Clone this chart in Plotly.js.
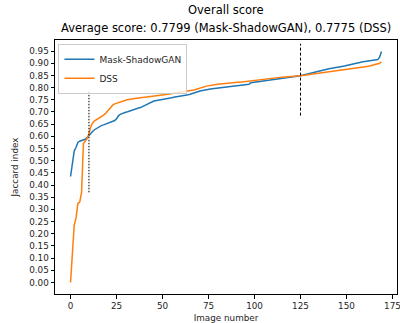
<!DOCTYPE html>
<html>
<head>
<meta charset="utf-8">
<script src="https://cdn.plot.ly/plotly-3.0.1.min.js"></script>
<style>html,body{margin:0;padding:0;background:#fff;}#chart{width:400px;height:323px;}</style>
</head>
<body>
<div id="chart"></div>
<script>
const seriesNames = ["Mask-ShadowGAN", "DSS"];
const maskShadowGAN = [
0.435,0.49,0.54,0.555,0.575,0.58,0.582,0.585,0.588,0.595,
0.605,0.612,0.62,0.627,0.632,0.636,0.641,0.645,0.647,0.65,
0.652,0.656,0.659,0.662,0.665,0.672,0.684,0.69,0.694,0.697,
0.699,0.701,0.704,0.706,0.708,0.71,0.713,0.716,0.718,0.722,
0.726,0.729,0.732,0.735,0.74,0.744,0.746,0.747,0.749,0.75,
0.751,0.752,0.754,0.756,0.757,0.758,0.76,0.761,0.763,0.764,
0.765,0.766,0.768,0.77,0.771,0.773,0.776,0.779,0.781,0.783,
0.785,0.787,0.789,0.79,0.792,0.793,0.794,0.795,0.796,0.797,
0.798,0.799,0.8,0.801,0.802,0.803,0.804,0.805,0.806,0.806,
0.807,0.808,0.809,0.81,0.81,0.811,0.812,0.814,0.82,0.821,
0.822,0.823,0.824,0.825,0.826,0.828,0.829,0.83,0.831,0.832,
0.833,0.834,0.835,0.836,0.837,0.838,0.839,0.84,0.841,0.842,
0.843,0.844,0.845,0.846,0.847,0.849,0.851,0.853,0.855,0.857,
0.859,0.861,0.863,0.865,0.867,0.869,0.871,0.872,0.874,0.875,
0.877,0.878,0.879,0.88,0.881,0.882,0.883,0.885,0.887,0.889,
0.891,0.893,0.895,0.897,0.899,0.9,0.901,0.903,0.905,0.906,
0.907,0.908,0.909,0.91,0.911,0.912,0.913,0.915,0.925,0.948
];
const dss = [
0.0,0.13,0.235,0.265,0.325,0.33,0.37,0.57,0.578,0.59,
0.61,0.64,0.655,0.664,0.668,0.672,0.676,0.68,0.687,0.694,
0.702,0.712,0.722,0.729,0.733,0.736,0.739,0.741,0.743,0.746,
0.748,0.75,0.752,0.753,0.754,0.755,0.756,0.757,0.758,0.759,
0.76,0.761,0.762,0.763,0.764,0.765,0.765,0.766,0.766,0.767,
0.767,0.768,0.77,0.772,0.774,0.776,0.777,0.779,0.78,0.781,
0.782,0.783,0.784,0.786,0.787,0.788,0.789,0.79,0.792,0.795,
0.798,0.8,0.802,0.804,0.806,0.808,0.81,0.811,0.812,0.813,
0.814,0.815,0.816,0.817,0.817,0.818,0.818,0.819,0.82,0.82,
0.821,0.822,0.822,0.823,0.824,0.825,0.826,0.827,0.828,0.829,
0.83,0.831,0.832,0.833,0.834,0.835,0.836,0.837,0.838,0.839,
0.839,0.84,0.841,0.842,0.842,0.843,0.844,0.844,0.845,0.846,
0.846,0.847,0.847,0.848,0.848,0.849,0.85,0.851,0.852,0.853,
0.854,0.855,0.856,0.857,0.858,0.859,0.86,0.861,0.862,0.863,
0.864,0.865,0.866,0.867,0.868,0.869,0.87,0.871,0.872,0.873,
0.874,0.875,0.876,0.877,0.878,0.879,0.88,0.881,0.882,0.883,
0.884,0.886,0.888,0.89,0.892,0.894,0.895,0.897,0.9,0.906
];
const markerLines = [ {x: 10, y0: 0.37, y1: 0.79, dash: "1.5px,1.5px"}, {x: 125, y0: 0.685, y1: 0.98, dash: "3px,2px"} ];
const yTickVals = [0,0.05,0.1,0.15,0.2,0.25,0.3,0.35,0.4,0.45,0.5,0.55,0.6,0.65,0.7,0.75,0.8,0.85,0.9,0.95];
const xTickVals = [0,25,50,75,100,125,150,175];
const titleMain = "Overall score";
const titleSub = "Average score: 0.7799 (Mask-ShadowGAN), 0.7775 (DSS)";

const xs = maskShadowGAN.map((_, i) => i);
const font = "DejaVu Sans, sans-serif";
const traces = [
  {x: xs, y: maskShadowGAN, type: "scatter", mode: "lines", name: seriesNames[0], line: {color: "#1f77b4", width: 1.5}},
  {x: dss.map((_, i) => i), y: dss, type: "scatter", mode: "lines", name: seriesNames[1], line: {color: "#ff7f0e", width: 1.5}}
];
const shapes = markerLines.map(m => ({type: "line", xref: "x", yref: "y", x0: m.x, x1: m.x, y0: m.y0, y1: m.y1, line: {color: "#000", width: 1, dash: m.dash}}));
const layout = {
  width: 400, height: 323,
  margin: {l: 55, r: 3, t: 40, b: 29},
  paper_bgcolor: "#fff", plot_bgcolor: "#fff",
  font: {family: font, color: "#262626", size: 8.8},
  showlegend: true,
  legend: {x: 0.01, y: 0.985, xanchor: "left", yanchor: "top", bgcolor: "rgba(255,255,255,0.8)", bordercolor: "#cccccc", borderwidth: 1, font: {size: 9, family: font}, tracegroupgap: 0},
  xaxis: {range: [-8.45, 177.45], tickvals: xTickVals, ticks: "outside", ticklen: 3.5, tickcolor: "#000", showline: true, linecolor: "#000", linewidth: 1, mirror: true, showgrid: false, zeroline: false, ticklabeloverflow: "allow",
    title: {text: "Image number", font: {size: 8.8, family: font}, standoff: 4}},
  yaxis: {range: [-0.0474, 0.9954], tickvals: yTickVals, tickformat: ".2f", ticks: "outside", ticklen: 3.5, tickcolor: "#000", showline: true, linecolor: "#000", linewidth: 1, mirror: true, showgrid: false, zeroline: false,
    title: {text: "Jaccard index", font: {size: 8.8, family: font}, standoff: 9}},
  shapes: shapes,
  annotations: [
    {text: titleMain, xref: "paper", yref: "paper", x: 0.5, y: 1, xanchor: "center", yanchor: "bottom", yshift: 21, showarrow: false, font: {size: 11.5, family: font, color: "#000"}},
    {text: titleSub, xref: "paper", yref: "paper", x: 0.5, y: 1, xanchor: "center", yanchor: "bottom", yshift: 3, showarrow: false, font: {size: 11.5, family: font, color: "#000"}}
  ]
};
Plotly.newPlot("chart", traces, layout, {displayModeBar: false, staticPlot: true});
</script>
</body>
</html>
